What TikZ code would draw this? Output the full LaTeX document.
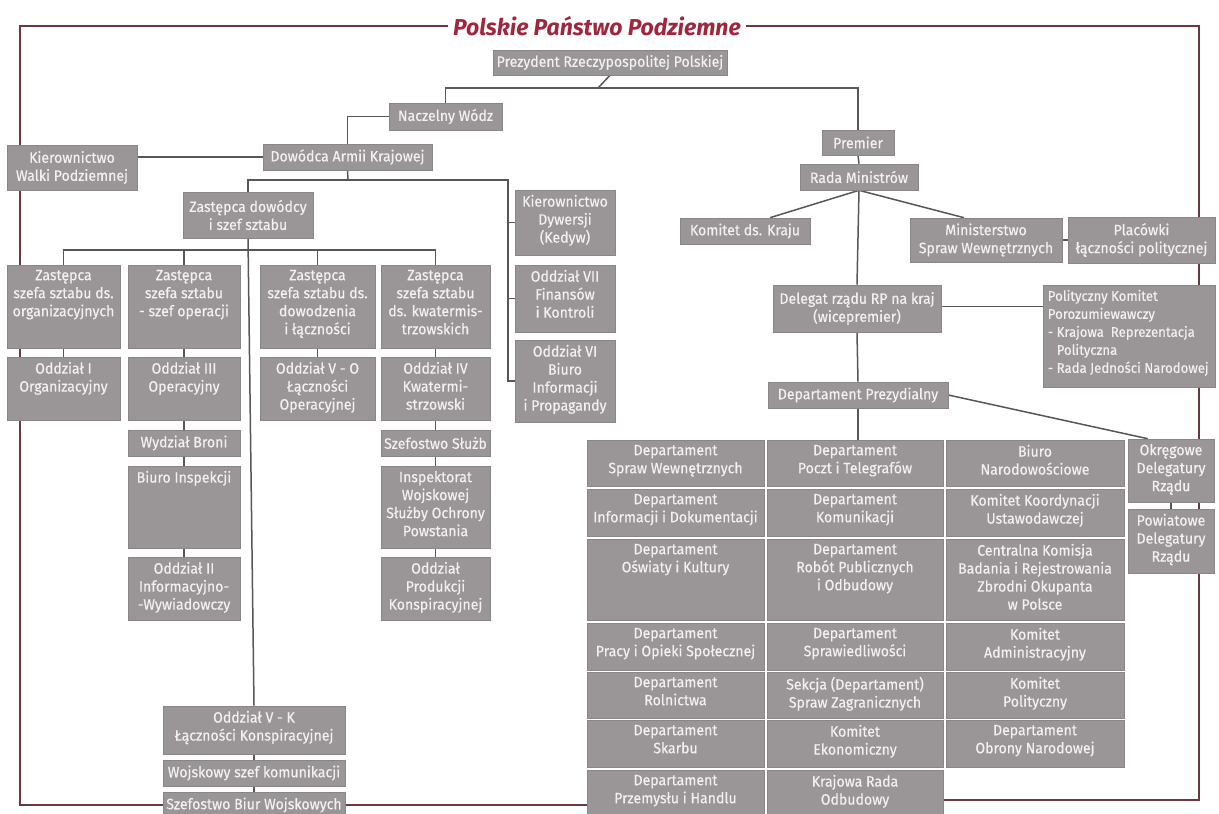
\documentclass[tikz,border=0pt]{standalone}
\usepackage{fontspec}
\newfontfamily\boxfont[FakeStretch=0.94,FakeBold=0.4]{Fira Sans}
\newfontfamily\titlefont{Fira Sans}
\definecolor{boxgray}{HTML}{9A9697}
\definecolor{boxedge}{HTML}{8A8687}
\definecolor{boxtext}{HTML}{F2F0F0}
\definecolor{linegray}{HTML}{575757}
\definecolor{framered}{HTML}{693840}
\definecolor{titlered}{HTML}{A0263D}
\pgfdeclarelayer{bgl}
\pgfdeclarelayer{lines}
\pgfsetlayers{bgl,lines,main}
\tikzset{
  box/.style={fill=boxgray, draw=boxedge, line width=0.6pt, inner sep=2pt, align=center,
    text=boxtext, font=\boxfont\fontsize{15}{18}\selectfont},
  txt/.style={inner sep=0pt, align=center, text=boxtext, font=\boxfont\fontsize{15}{18}\selectfont},
  conn/.style={draw=linegray, line width=1.5pt},
  frameline/.style={draw=framered, line width=1.3pt},
}
\newcommand\bxc[6]{\node[box, minimum width={(#4-#2)*1pt}, minimum height={(#5-#3)*1pt}] (#1) at ({(#2+#4)/2},{(#3+#5)/2}) {#6};}
\newcommand\bxt[6]{\node[box, minimum width={(#4-#2)*1pt}, minimum height={(#5-#3)*1pt}] (#1) at ({(#2+#4)/2},{(#3+#5)/2}) {};
  \node[txt, anchor=north] (#1-t) at ([yshift=-5pt]#1.north) {#6};}
\begin{document}
\begin{tikzpicture}[x=1pt,y=-1pt]
\useasboundingbox (0,0) rectangle (1219,814);
\begin{pgfonlayer}{bgl}\fill[white] (0,0) rectangle (1219,814);\end{pgfonlayer}

\node[font=\titlefont\bfseries\itshape\fontsize{23}{23}\selectfont, text=titlered, inner sep=5pt] (title) at (597,26) {Polskie Państwo Podziemne};

% left part
\bxc{pr}{493}{50}{727}{75}{Prezydent Rzeczypospolitej Polskiej}
\bxc{nw}{389}{103}{502}{130}{Naczelny Wódz}
\bxc{dak}{263}{144}{432}{170}{Dowódca Armii Krajowej}
\bxc{kwp}{7}{145}{137}{190}{Kierownictwo\\Walki Podziemnej}
\bxc{zd}{183}{192}{313}{238}{Zastępca dowódcy\\i szef sztabu}
\bxt{z1}{7}{265}{120}{348}{Zastępca\\szefa sztabu ds.\\organizacyjnych}
\bxt{z2}{128}{265}{240}{348}{Zastępca\\szefa sztabu\\- szef operacji}
\bxt{z3}{260}{265}{375}{348}{Zastępca\\szefa sztabu ds.\\dowodzenia\\i łączności}
\bxt{z4}{381}{265}{490}{348}{Zastępca\\szefa sztabu\\ds. kwatermis-\\trzowskich}
\bxt{o1}{7}{357}{120}{420}{Oddział I\\Organizacyjny}
\bxt{o3}{128}{357}{240}{420}{Oddział III\\Operacyjny}
\bxt{o5}{260}{357}{375}{420}{Oddział V - O\\Łączności\\Operacyjnej}
\bxt{o4}{381}{357}{490}{420}{Oddział IV\\Kwatermi-\\strzowski}
\bxc{wb}{128}{430}{240}{456}{Wydział Broni}
\bxt{bi}{128}{466}{240}{548}{Biuro Inspekcji}
\bxt{o2}{128}{557}{240}{620}{Oddział II\\Informacyjno-\\-Wywiadowczy}
\bxc{ss}{381}{430}{490}{456}{Szefostwo Służb}
\bxt{iw}{381}{466}{490}{548}{Inspektorat\\Wojskowej\\Służby Ochrony\\Powstania}
\bxt{op}{381}{557}{490}{620}{Oddział\\Produkcji\\Konspiracyjnej}
\bxt{vk}{163}{706}{345}{754}{Oddział V - K\\Łączności Konspiracyjnej}
\bxc{wsk}{163}{760}{345}{786}{Wojskowy szef komunikacji}
\bxc{sbw}{163}{792}{345}{818}{Szefostwo Biur Wojskowych}
\bxt{kd}{515}{190}{615}{255}{Kierownictwo\\Dywersji\\(Kedyw)}
\bxt{o7}{515}{265}{615}{332}{Oddział VII\\Finansów\\i Kontroli}
\bxt{o6}{515}{340}{615}{422}{Oddział VI\\Biuro\\Informacji\\i Propagandy}

% right part
\bxc{pm}{822}{130}{894}{155}{Premier}
\bxc{rm}{800}{164}{918}{190}{Rada Ministrów}
\bxc{kk}{680}{218}{810}{244}{Komitet ds. Kraju}
\bxc{msw}{910}{218}{1062}{262}{Ministerstwo\\Spraw Wewnętrznych}
\bxc{plac}{1068}{217}{1215}{263}{Placówki\\łączności politycznej}
\bxc{del}{773}{285}{941}{332}{Delegat rządu RP na kraj\\(wicepremier)}
\node[box, minimum width=172pt, minimum height=102pt] (pkp) at (1129,336) {};
\node[txt, align=left, anchor=north west, font=\boxfont\fontsize{14}{18}\selectfont] (pkp-t) at ([xshift=5pt,yshift=-5pt]pkp.north west)
  {Polityczny Komitet\\Porozumiewawczy\\- Krajowa~~Reprezentacja\\\phantom{- }Polityczna\\- Rada Jedności Narodowej};
\bxc{dp}{768}{382}{948}{408}{Departament Prezydialny}
\bxt{ok}{1128}{439}{1214}{502}{Okręgowe\\Delegatury\\Rządu}
\bxt{pw}{1128}{509}{1214}{573}{Powiatowe\\Delegatury\\Rządu}

% grid
\bxt{g11}{587}{440}{764}{486}{Departament\\Spraw Wewnętrznych}
\bxt{g12}{767}{440}{943}{486}{Departament\\Poczt i Telegrafów}
\bxt{g13}{946}{440}{1124}{486}{Biuro\\Narodowościowe}
\bxt{g21}{587}{489}{764}{536}{Departament\\Informacji i Dokumentacji}
\bxt{g22}{767}{489}{943}{536}{Departament\\Komunikacji}
\bxt{g23}{946}{489}{1124}{536}{Komitet Koordynacji\\Ustawodawczej}
\bxt{g31}{587}{539}{764}{620}{Departament\\Oświaty i Kultury}
\bxt{g32}{767}{539}{943}{620}{Departament\\Robót Publicznych\\i Odbudowy}
\bxt{g33}{946}{539}{1124}{620}{Centralna Komisja\\Badania i Rejestrowania\\Zbrodni Okupanta\\w Polsce}
\bxt{g41}{587}{623}{764}{670}{Departament\\Pracy i Opieki Społecznej}
\bxt{g42}{767}{623}{943}{670}{Departament\\Sprawiedliwości}
\bxt{g43}{946}{623}{1124}{670}{Komitet\\Administracyjny}
\bxt{g51}{587}{672}{764}{718}{Departament\\Rolnictwa}
\bxt{g52}{767}{672}{943}{718}{Sekcja (Departament)\\Spraw Zagranicznych}
\bxt{g53}{946}{672}{1124}{718}{Komitet\\Polityczny}
\bxt{g61}{587}{720}{764}{767}{Departament\\Skarbu}
\bxt{g62}{767}{720}{943}{767}{Komitet\\Ekonomiczny}
\bxt{g63}{946}{720}{1124}{767}{Departament\\Obrony Narodowej}
\bxt{g71}{587}{770}{764}{818}{Departament\\Przemysłu i Handlu}
\bxt{g72}{767}{770}{943}{818}{Krajowa Rada\\Odbudowy}

\coordinate (fl) at (20,0);
\coordinate (fr) at (1199,0);
\coordinate (h0) at (598,88);
\coordinate (h1) at (348,180);
\coordinate (kv) at (508,180);
\coordinate (h2) at (248,250);
\coordinate (br) at (1199,800);

\begin{pgfonlayer}{lines}
% frame
\draw[frameline] (title.west) -| (fl |- kwp.north);
\draw[frameline] (fl |- kwp.south) |- (sbw.west);
\draw[frameline] (sbw.east) -- (sbw.east -| g71.west);
\draw[frameline] (title.east) -| (fr |- plac.north);
\draw[frameline] (fr |- plac.south) -- (fr |- pkp.north);
\draw[frameline] (fr |- pkp.south) -- (fr |- ok.north);
\draw[frameline] (fr |- ok.south) -- (fr |- pw.north);
\draw[frameline] (fr |- pw.south) -- (br) -- (br -| g72.east);
% connectors left
\draw[conn] (pr.south) -- (h0);
\draw[conn] (nw.north) |- (h0) -| (pm.north);
\draw[conn] (nw.west) -| (dak.north);
\draw[conn] (dak.west) -- (dak.west -| kwp.east);
\draw[conn] (dak.south) -- (h1);
\draw[conn] (zd.north) |- (kv) |- (o6.west);
\draw[conn] (kv |- kd.west) -- (kd.west);
\draw[conn] (kv |- o7.west) -- (o7.west);
\draw[conn] (zd.south) -- (vk.north);
\draw[conn] (z1.north) |- (h2) -| (z4.north);
\draw[conn] (z2.north) -- (z2.north |- h2);
\draw[conn] (z3.north) -- (z3.north |- h2);
\draw[conn] (z1.south) -- (o1.north);
\draw[conn] (z2.south) -- (o3.north);
\draw[conn] (z3.south) -- (o5.north);
\draw[conn] (z4.south) -- (o4.north);
\draw[conn] (o3.south) -- (wb.north);
\draw[conn] (wb.south) -- (bi.north);
\draw[conn] (bi.south) -- (o2.north);
\draw[conn] (o4.south) -- (ss.north);
\draw[conn] (ss.south) -- (iw.north);
\draw[conn] (iw.south) -- (op.north);
\draw[conn] (vk.south) -- (wsk.north);
\draw[conn] (wsk.south) -- (sbw.north);
% connectors right
\draw[conn] (pm.south) -- (rm.north);
\draw[conn] (rm.south) -- ([xshift=25pt]kk.north);
\draw[conn] (rm.south) -- ([xshift=-22pt]msw.north);
\draw[conn] (rm.south) -- (del.north);
\draw[conn] (msw.east) -- (plac.west);
\draw[conn] ([yshift=2pt]del.east) -- ([yshift=2pt]del.east -| pkp.west);
\draw[conn] (del.south) -- (dp.north);
\draw[conn] (dp.east) -- ([xshift=20pt]ok.north west);
\draw[conn] (dp.south) -- (dp.south |- g12.north);
\draw[conn] (ok.south) -- (pw.north);
\end{pgfonlayer}
\end{tikzpicture}
\end{document}
